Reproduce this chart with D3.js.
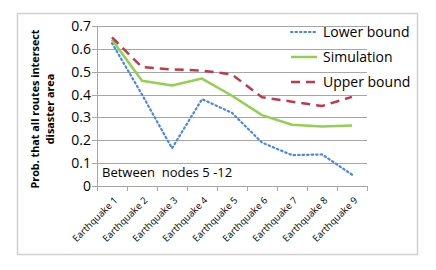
<!DOCTYPE html>
<html>
<head>
<meta charset="utf-8">
<script src="https://cdn.jsdelivr.net/npm/d3@7"></script>
<style>
  body { margin: 0; background: #fff; }
  svg { font-family: "Open Sans", "DejaVu Sans", sans-serif; }
</style>
</head>
<body>
<svg id="chart" width="436" height="270"></svg>
<script>
// Data
const categories = ["Earthquake 1", "Earthquake 2", "Earthquake 3", "Earthquake 4", "Earthquake 5",
                    "Earthquake 6", "Earthquake 7", "Earthquake 8", "Earthquake 9"];
const lowerBound = [0.625, 0.40, 0.165, 0.38, 0.32, 0.19, 0.135, 0.138, 0.05];
const simulation = [0.64, 0.46, 0.44, 0.47, 0.395, 0.31, 0.268, 0.26, 0.265];
const upperBound = [0.65, 0.52, 0.51, 0.505, 0.488, 0.388, 0.369, 0.35, 0.39];
const yTicks = [0, 0.1, 0.2, 0.3, 0.4, 0.5, 0.6, 0.7];

const series = [
  { name: "Lower bound", values: lowerBound, color: "#4a86e8", dash: "1.5,3", width: 2.2, cap: "round" },
  { name: "Simulation", values: simulation, color: "#92d050", dash: null, width: 2.5, cap: "butt" },
  { name: "Upper bound", values: upperBound, color: "#c0394b", dash: "9,6", width: 2.5, cap: "butt" }
];

const svg = d3.select("#chart");

// outer frame
svg.append("rect")
  .attr("x", 17.5).attr("y", 13.5)
  .attr("width", 400).attr("height", 241)
  .attr("fill", "#fff")
  .attr("stroke", "#d0d0d0")
  .attr("stroke-width", 1.5);

const plot = { left: 97, right: 367, top: 26, bottom: 186 };

const x = d3.scaleBand()
  .domain(categories)
  .range([plot.left, plot.right]);

const y = d3.scaleLinear()
  .domain([0, 0.7])
  .range([plot.bottom, plot.top]);

// gridlines
svg.append("g")
  .selectAll("line")
  .data(yTicks)
  .enter()
  .append("line")
  .attr("x1", plot.left - 5)
  .attr("x2", plot.right)
  .attr("y1", d => Math.round(y(d)) + 0.5)
  .attr("y2", d => Math.round(y(d)) + 0.5)
  .attr("stroke", "#a6a6a6")
  .attr("stroke-width", 1);

// y axis line
svg.append("line")
  .attr("x1", plot.left + 0.5).attr("x2", plot.left + 0.5)
  .attr("y1", plot.top).attr("y2", plot.bottom + 0.5)
  .attr("stroke", "#a6a6a6");

// y tick labels
svg.append("g")
  .selectAll("text")
  .data(yTicks)
  .enter()
  .append("text")
  .attr("x", plot.left - 6)
  .attr("y", d => y(d))
  .attr("dy", "0.36em")
  .attr("text-anchor", "end")
  .attr("font-size", 14)
  .attr("fill", "#000")
  .text(d => d === 0 ? "0" : d.toFixed(1));

// x axis ticks
const xTickPos = categories.map(c => x(c)).concat([plot.right]);
svg.append("g")
  .selectAll("line")
  .data(xTickPos)
  .enter()
  .append("line")
  .attr("x1", d => Math.round(d) + 0.5)
  .attr("x2", d => Math.round(d) + 0.5)
  .attr("y1", plot.bottom)
  .attr("y2", plot.bottom + 5)
  .attr("stroke", "#a6a6a6");

// x tick labels, rotated
svg.append("g")
  .selectAll("text")
  .data(categories)
  .enter()
  .append("text")
  .attr("transform", d => `translate(${x(d) + x.bandwidth() / 2 + 6},${plot.bottom + 15}) rotate(-45)`)
  .attr("text-anchor", "end")
  .attr("font-size", 9.5)
  .attr("fill", "#000")
  .text(d => d);

// annotation
svg.append("text")
  .attr("x", 102)
  .attr("y", 177)
  .attr("font-size", 13)
  .attr("fill", "#000")
  .attr("xml:space", "preserve")
  .style("white-space", "pre")
  .text("Between  nodes 5 -12");

// lines
const line = d3.line()
  .x((d, i) => x(categories[i]) + x.bandwidth() / 2)
  .y(d => y(d));

series.forEach(s => {
  svg.append("path")
    .datum(s.values)
    .attr("d", line)
    .attr("fill", "none")
    .attr("stroke", s.color)
    .attr("stroke-width", s.width)
    .attr("stroke-linecap", s.cap)
    .attr("stroke-linejoin", "round")
    .attr("stroke-dasharray", s.dash);
});

// legend
const legend = svg.append("g");
series.forEach((s, i) => {
  const ly = 32 + i * 25;
  legend.append("line")
    .attr("x1", 291).attr("x2", 317)
    .attr("y1", ly).attr("y2", ly)
    .attr("stroke", s.color)
    .attr("stroke-width", s.width)
    .attr("stroke-linecap", s.cap)
    .attr("stroke-dasharray", s.dash);
  legend.append("text")
    .attr("x", 323)
    .attr("y", ly)
    .attr("dy", "0.36em")
    .attr("font-size", 14)
    .attr("fill", "#000")
    .text(s.name);
});

// y axis title
const title = svg.append("g")
  .attr("transform", `translate(0,109) rotate(-90)`);
title.append("text")
  .attr("x", 0).attr("y", 39)
  .attr("text-anchor", "middle")
  .attr("font-size", 10.8)
  .attr("font-weight", "bold")
  .text("Prob. that all routes intersect");
title.append("text")
  .attr("x", 0).attr("y", 54)
  .attr("text-anchor", "middle")
  .attr("font-size", 10.8)
  .attr("font-weight", "bold")
  .text("disaster area");
</script>
</body>
</html>
